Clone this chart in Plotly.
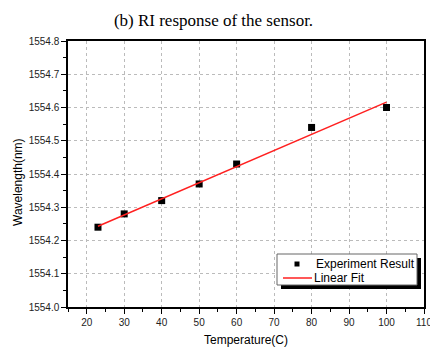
import plotly.graph_objects as go

temperature = [23, 30, 40, 50, 60, 80, 100]
wavelength = [1554.24, 1554.28, 1554.32, 1554.37, 1554.43, 1554.54, 1554.60]
fit_x = [23, 100]
fit_y = [1554.243, 1554.616]
x_ticks = [20, 30, 40, 50, 60, 70, 80, 90, 100, 110]
y_ticks = [1554.0, 1554.1, 1554.2, 1554.3, 1554.4, 1554.5, 1554.6, 1554.7, 1554.8]
legend_labels = ["Experiment Result", "Linear Fit"]

sans = "Liberation Sans, Arial, sans-serif"
RED = "#ff2020"

fig = go.Figure()
fig.add_trace(go.Scatter(
    x=temperature, y=wavelength, mode="markers", name=legend_labels[0],
    marker=dict(symbol="square", size=7, color="black"),
))
fig.add_trace(go.Scatter(
    x=fit_x, y=fit_y, mode="lines", name=legend_labels[1],
    line=dict(color=RED, width=1.5),
))

L, R, T, B = 68, 6, 41, 40
W, H = 430, 347
PW, PH = W - L - R, H - T - B


def px(x):
    return (x - L) / PW


def py(y):
    return (H - B - y) / PH


axis_common = dict(
    showline=True, linecolor="black", linewidth=1.5, mirror=True,
    ticks="outside", ticklen=5, tickwidth=1, tickcolor="black",
    showgrid=True, gridcolor="#bbbbbb", griddash="dot", gridwidth=1,
    zeroline=False, automargin=False,
    tickfont=dict(family=sans, size=10, color="#222"),
)

shapes = [
    # legend shadow
    dict(type="rect", xref="paper", yref="paper", x0=px(281), x1=px(421), y0=py(289), y1=py(258),
         fillcolor="black", line=dict(width=0), layer="above"),
    # legend box
    dict(type="rect", xref="paper", yref="paper", x0=px(277), x1=px(417), y0=py(285), y1=py(254),
         fillcolor="white", line=dict(color="#666", width=1), layer="above"),
    # legend square
    dict(type="rect", xref="paper", yref="paper", x0=px(294.5), x1=px(299.5), y0=py(266.5), y1=py(261.5),
         fillcolor="black", line=dict(width=0), layer="above"),
    # legend line
    dict(type="line", xref="paper", yref="paper", x0=px(283), x1=px(312), y0=py(278), y1=py(278),
         line=dict(color=RED, width=1.5), layer="above"),
]

annotations = [
    dict(text=legend_labels[0], xref="paper", yref="paper", x=px(314), y=py(264), xanchor="left",
         yanchor="middle", showarrow=False, font=dict(family=sans, size=12, color="black")),
    dict(text=legend_labels[1], xref="paper", yref="paper", x=px(312), y=py(278), xanchor="left",
         yanchor="middle", showarrow=False, font=dict(family=sans, size=12, color="black")),
    # y-axis title
    dict(text="Wavelength(nm)", xref="paper", yref="paper", x=px(18), y=py(182), xanchor="center",
         yanchor="middle", textangle=-90, showarrow=False, font=dict(family=sans, size=12, color="black")),
    # last x tick label, cut by the page edge as in the reference
    dict(text=str(x_ticks[-1]), xref="x", yref="paper", x=x_ticks[-1], y=py(322), xanchor="center",
         yanchor="middle", showarrow=False, font=dict(family=sans, size=10, color="#222")),
]

fig.update_layout(
    width=W, height=H,
    margin=dict(l=L, r=R, t=T, b=B),
    paper_bgcolor="white", plot_bgcolor="white",
    title=dict(text="(b) RI response of the sensor.", x=213.5 / W, xanchor="center",
               y=1 - 20 / H, yanchor="middle",
               font=dict(family="Liberation Serif, Times New Roman, serif", size=17, color="black")),
    xaxis=dict(axis_common, range=[15, 110], tickvals=x_ticks,
               minor=dict(ticks="outside", ticklen=3, dtick=5, tick0=15, tickcolor="black", showgrid=False),
               title=dict(text="Temperature(C)", font=dict(family=sans, size=12, color="black"))),
    yaxis=dict(axis_common, range=[1554.0, 1554.8], tickvals=y_ticks, tickformat=".1f",
               minor=dict(ticks="outside", ticklen=3, dtick=0.05, tick0=1554.05, tickcolor="black", showgrid=False)),
    showlegend=False,
    shapes=shapes,
    annotations=annotations,
)

fig.write_html("out.html", config={"displayModeBar": False},
               post_script="document.body.style.margin='0';")
